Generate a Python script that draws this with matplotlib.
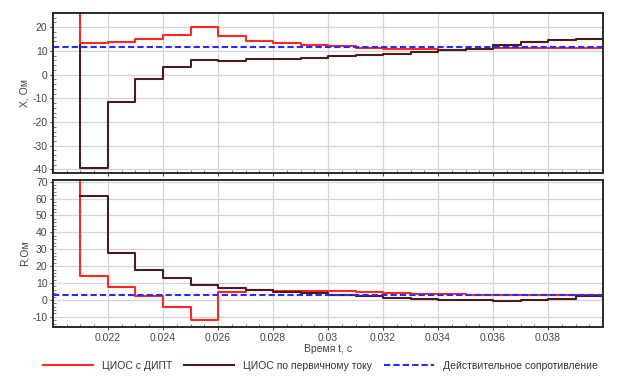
import numpy as np
import matplotlib.pyplot as plt
from matplotlib.ticker import MultipleLocator, FuncFormatter

plt.rcParams['font.family'] = ['Liberation Sans', 'DejaVu Sans']
plt.rcParams['axes.unicode_minus'] = False

# момент начала каждой ступени (шаг 1 мс), первая точка - бросок вне шкалы
t = [0.021, 0.021, 0.022, 0.023, 0.024, 0.025, 0.026, 0.027, 0.028, 0.029, 0.030,
     0.031, 0.032, 0.033, 0.034, 0.035, 0.036, 0.037, 0.038, 0.039, 0.040]

x_dipt = [100, 13.2, 13.9, 14.9, 16.7, 20.3, 16.1, 14.4, 13.2, 12.4, 12.0,
          11.3, 10.7, 10.7, 10.4, 10.9, 11.3, 11.3, 11.3, 11.3, 11.3]
x_prim = [12.5, -39.5, -11.7, -1.8, 3.1, 6.2, 5.8, 6.5, 6.8, 7.2, 7.8,
          8.3, 8.9, 9.5, 10.3, 10.8, 12.4, 13.6, 14.6, 15.1, 15.1]
r_dipt = [100, 14.2, 7.5, 2.2, -3.9, -12.0, 5.0, 5.9, 5.3, 5.3, 5.3,
          4.7, 4.0, 3.5, 3.3, 2.8, 2.8, 2.8, 2.8, 2.8, 2.8]
r_prim = [61.6, 61.6, 27.6, 17.7, 12.8, 8.9, 6.9, 5.9, 4.5, 3.9, 3.0,
          2.5, 1.0, 0.5, 0.0, 0.0, -0.6, -0.2, 0.6, 2.5, 2.5]

x_real = 11.8   # действительное сопротивление X
r_real = 3.0    # действительное сопротивление R

xticks = [0.022, 0.024, 0.026, 0.028, 0.030, 0.032, 0.034, 0.036, 0.038]
labels = ['ЦИОС с ДИПТ', 'ЦИОС по первичному току', 'Действительное сопротивление']
c_red = '#ff2626'
c_dark = '#4a1c1e'
c_blue = '#2a2aff'

fig = plt.figure(figsize=(6.22, 3.76), dpi=100)
ax1 = fig.add_axes([0.0852, 0.5399, 0.8843, 0.4255])
ax2 = fig.add_axes([0.0852, 0.1303, 0.8843, 0.391])

def style(ax):
    ax.set_xlim(0.02, 0.04)
    ax.set_xticks(xticks)
    ax.xaxis.set_minor_locator(MultipleLocator(0.0005))
    ax.yaxis.set_major_locator(MultipleLocator(10))
    ax.yaxis.set_minor_locator(MultipleLocator(2))
    ax.grid(True, which='major', color='#d4d4d4', lw=0.9)
    ax.set_axisbelow(True)
    for s in ax.spines.values():
        s.set_color('#2b2b2b')
        s.set_linewidth(1.4)
    ax.tick_params(which='major', direction='out', length=2, pad=2, labelsize=7.5,
                   colors='#444444', labelcolor='#444444')
    ax.tick_params(which='minor', direction='in', length=2, color='#666666')

for ax, a, b, real in [(ax1, x_dipt, x_prim, x_real), (ax2, r_dipt, r_prim, r_real)]:
    ax.plot(t, a, drawstyle='steps-post', color=c_red, lw=1.5, label=labels[0])
    ax.plot(t, b, drawstyle='steps-post', color=c_dark, lw=1.5, label=labels[1])
    ax.axhline(real, color=c_blue, lw=1.5, ls=(0, (3, 1.5)), label=labels[2])
    style(ax)

ax1.set_ylim(-41.5, 26)
ax1.tick_params(axis='x', which='both', labelbottom=False)
ax1.set_ylabel('X, Ом', fontsize=7.5, color='#444444', labelpad=2)

ax2.set_ylim(-16, 71)
ax2.xaxis.set_major_formatter(FuncFormatter(lambda v, p: '%g' % round(v, 4)))
ax2.set_ylabel('R,Ом', fontsize=7.5, color='#444444', labelpad=2)
ax2.set_xlabel('Время t, с', fontsize=7.5, color='#444444', labelpad=1)

h, l = ax1.get_legend_handles_labels()
fig.legend(h, l, loc='lower center', bbox_to_anchor=(0.515, -0.012), ncol=3,
           frameon=False, fontsize=7.5, handlelength=4.8, columnspacing=1.2,
           labelcolor='#333333')

fig.savefig('out.png', dpi=100)
